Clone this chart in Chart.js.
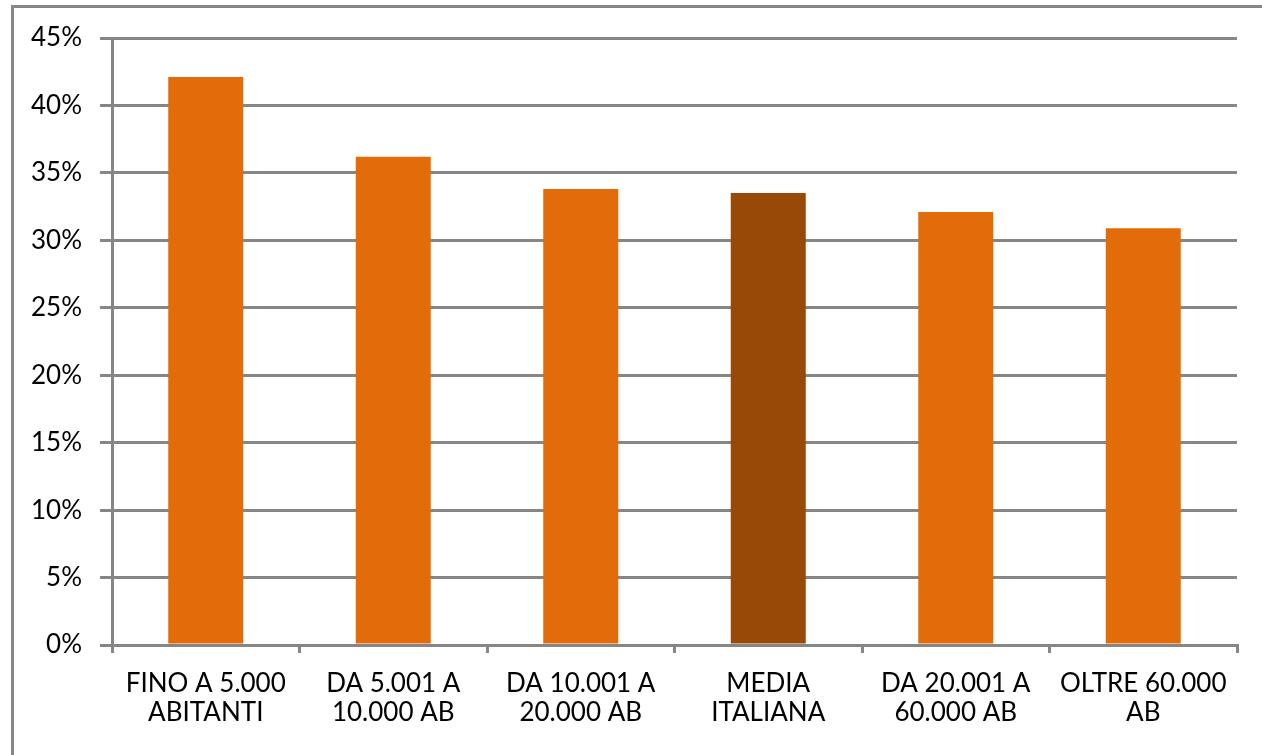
<!DOCTYPE html>
<html>
<head>
<meta charset="utf-8">
<script src="https://cdn.jsdelivr.net/npm/chart.js@4"></script>
<style>
  html, body { margin: 0; padding: 0; background: #fff; }
  #wrap { width: 1262px; height: 755px; }
</style>
</head>
<body>
<div id="wrap"><canvas id="popChart"></canvas></div>
<script>
const categories = [
    ['FINO A 5.000', 'ABITANTI'],
    ['DA 5.001 A', '10.000 AB'],
    ['DA 10.001 A', '20.000 AB'],
    ['MEDIA', 'ITALIANA'],
    ['DA 20.001 A', '60.000 AB'],
    ['OLTRE 60.000', 'AB']
];
const values = [42.1, 36.2, 33.8, 33.5, 32.1, 30.9];
const barColors = ['#E36C0A', '#E36C0A', '#E36C0A', '#984807', '#E36C0A', '#E36C0A'];

const gridGray = '#868686';

// cornice grigia in alto e a sinistra
const frame = {
    id: 'frame',
    beforeDraw(chart) {
        const c = chart.ctx;
        c.save();
        c.strokeStyle = gridGray;
        c.lineWidth = 3;
        c.beginPath();
        c.moveTo(12.5, 755);
        c.lineTo(12.5, 6.5);
        c.lineTo(1262, 6.5);
        c.stroke();
        c.restore();
    }
};

const ctx = document.getElementById('popChart');
new Chart(ctx, {
    type: 'bar',
    data: {
        labels: categories,
        datasets: [{
            data: values,
            backgroundColor: barColors,
            borderWidth: 0,
            barPercentage: 0.8,
            categoryPercentage: 0.5
        }]
    },
    options: {
        responsive: true,
        maintainAspectRatio: false,
        animation: false,
        layout: {
            padding: { top: 38, right: 25, bottom: 0, left: 0 }
        },
        plugins: {
            legend: { display: false },
            tooltip: { enabled: false }
        },
        scales: {
            x: {
                grid: {
                    offset: true,
                    drawOnChartArea: false,
                    drawTicks: true,
                    tickLength: 8,
                    color: gridGray,
                    lineWidth: 3
                },
                border: { color: gridGray, width: 3 },
                ticks: {
                    color: '#000',
                    padding: 16,
                    maxRotation: 0,
                    autoSkip: false,
                    font: { family: 'Lato', size: 26, lineHeight: 1.12 }
                },
                afterFit(scale) { scale.height = 110; }
            },
            y: {
                min: 0,
                max: 45,
                grid: {
                    color: gridGray,
                    lineWidth: 3,
                    tickLength: 12
                },
                border: { color: gridGray, width: 3 },
                ticks: {
                    stepSize: 5,
                    color: '#000',
                    padding: 18,
                    font: { family: 'Lato', size: 26 },
                    callback: v => v + '%'
                },
                afterFit(scale) { scale.width = 112; }
            }
        }
    },
    plugins: [frame]
});
</script>
</body>
</html>
